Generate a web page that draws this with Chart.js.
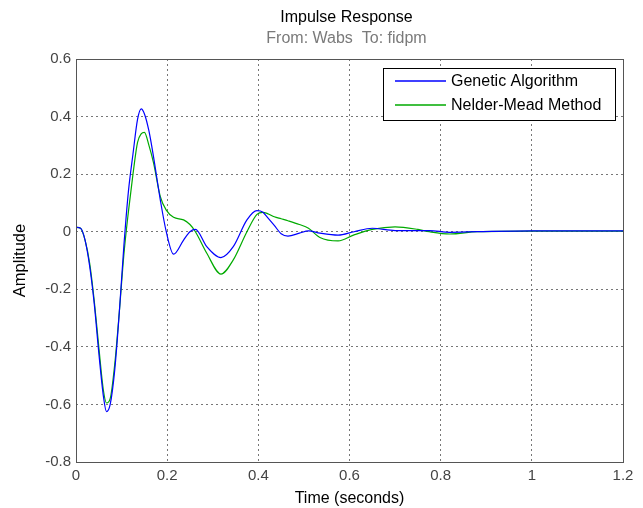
<!DOCTYPE html>
<html>
<head>
<meta charset="utf-8">
<script src="https://cdn.jsdelivr.net/npm/chart.js@4"></script>
<style>
  html, body { margin: 0; padding: 0; background: #fff; }
  #wrap { width: 643px; height: 508px; }
</style>
</head>
<body>
<div id="wrap"><canvas id="chart" width="643" height="508"></canvas></div>
<script>
'use strict';

// time samples (seconds)
let timeVals = [0, 0.01, 0.02, 0.03, 0.04, 0.05, 0.06, 0.067, 0.075, 0.085, 0.095, 0.105,
  0.115, 0.125, 0.135, 0.143, 0.15, 0.16, 0.17, 0.185, 0.198, 0.214, 0.236, 0.25, 0.262,
  0.287, 0.318, 0.345, 0.375, 0.397, 0.41, 0.42, 0.435, 0.45, 0.465, 0.49, 0.51, 0.535,
  0.575, 0.61, 0.65, 0.7, 0.75, 0.775, 0.82, 0.88, 1.0, 1.2];

let geneticVals = [0.015, 0.012, -0.03, -0.12, -0.25, -0.42, -0.57, -0.625, -0.6, -0.48, -0.28, -0.05,
  0.14, 0.27, 0.39, 0.427, 0.41, 0.35, 0.261, 0.11, 0.0, -0.078, -0.029, 0.0, 0.008,
  -0.052, -0.09, -0.052, 0.041, 0.073, 0.068, 0.05, 0.022, -0.007, -0.015, -0.005, 0.003, -0.005,
  -0.012, 0.0, 0.012, 0.004, 0.004, 0.004, -0.002, 0.0, 0.003, 0.003];

let nelderVals = [0.015, 0.012, -0.03, -0.11, -0.24, -0.4, -0.55, -0.595, -0.58, -0.46, -0.28, -0.08,
  0.07, 0.2, 0.31, 0.34, 0.345, 0.3, 0.24, 0.122, 0.075, 0.05, 0.041, 0.025, 0.0,
  -0.075, -0.147, -0.098, 0.0, 0.06, 0.067, 0.063, 0.052, 0.045, 0.038, 0.025, 0.012, -0.02,
  -0.032, -0.011, 0.008, 0.017, 0.008, 0.0, -0.008, 0.0, 0.002, 0.002];

let seriesNames = ['Genetic Algorithm', 'Nelder-Mead Method'];
let seriesColors = ['#0000ff', '#00aa00'];
let titleText = 'Impulse Response';
let subTitleText = 'From: Wabs  To: fidpm';

let fontFam = '"Liberation Sans", Arial, sans-serif';
let canvasElem = document.getElementById('chart');

function toPoints(ys) {
  let pts = [];
  for (let i = 0; i < timeVals.length; i++) {
    pts.push({ x: timeVals[i], y: ys[i] });
  }
  return pts;
}

// box round the axes, title over the plot area, legend in the corner
let matlabLook = {
  id: 'matlabLook',
  afterDraw(chart) {
    let ctx = chart.ctx;
    let a = chart.chartArea;
    ctx.save();
    ctx.setLineDash([]);
    ctx.strokeStyle = '#555';
    ctx.lineWidth = 1;
    ctx.strokeRect(Math.round(a.left) + 0.5, Math.round(a.top) + 0.5,
      Math.round(a.right - a.left), Math.round(a.bottom - a.top));

    let cx = (a.left + a.right) / 2 - 3;
    ctx.textAlign = 'center';
    ctx.textBaseline = 'middle';
    ctx.font = '16px ' + fontFam;
    ctx.fillStyle = '#000';
    ctx.fillText(titleText, cx, 18);
    ctx.fillStyle = '#7a7a7a';
    ctx.fillText(subTitleText, cx, 39);

    // legend
    let lx = 383, ly = 68, lw = 232, lh = 52;
    ctx.fillStyle = '#fff';
    ctx.fillRect(lx, ly, lw, lh);
    ctx.strokeStyle = '#000';
    ctx.strokeRect(lx + 0.5, ly + 0.5, lw, lh);
    ctx.textAlign = 'left';
    ctx.font = '16px ' + fontFam;
    for (let i = 0; i < seriesNames.length; i++) {
      let yy = ly + 13 + i * 24;
      ctx.strokeStyle = seriesColors[i];
      ctx.lineWidth = 1.3;
      ctx.beginPath();
      ctx.moveTo(lx + 12, yy);
      ctx.lineTo(lx + 63, yy);
      ctx.stroke();
      ctx.fillStyle = '#000';
      ctx.fillText(seriesNames[i], lx + 68, yy + 1);
    }
    ctx.restore();
  }
};

function renderChart() {
  let chartObj = {
    type: 'line',
    data: {
      datasets: [
        {
          label: seriesNames[0],
          data: toPoints(geneticVals),
          borderColor: seriesColors[0],
          borderWidth: 1.2,
          pointRadius: 0,
          cubicInterpolationMode: 'monotone',
          fill: false
        },
        {
          label: seriesNames[1],
          data: toPoints(nelderVals),
          borderColor: seriesColors[1],
          borderWidth: 1.2,
          pointRadius: 0,
          cubicInterpolationMode: 'monotone',
          fill: false
        }
      ]
    },
    options: {
      responsive: false,
      animation: false,
      layout: { padding: { top: 59, right: 20, left: 0, bottom: 0 } },
      plugins: {
        legend: { display: false },
        title: { display: false },
        tooltip: { enabled: false }
      },
      scales: {
        x: {
          type: 'linear',
          min: 0,
          max: 1.2,
          afterFit(scale) { scale.height = 46; },
          ticks: {
            stepSize: 0.2,
            color: '#444',
            font: { size: 15, family: fontFam },
            padding: 5,
            callback: (v) => String(Number(v.toFixed(1)))
          },
          grid: { color: '#777', drawTicks: false, lineWidth: 1 },
          border: { display: false, dash: [2, 3] },
          title: {
            display: true,
            text: 'Time (seconds)',
            color: '#000',
            font: { size: 16, family: fontFam },
            padding: { top: 2, bottom: 0 }
          }
        },
        y: {
          min: -0.8,
          max: 0.6,
          afterFit(scale) { scale.width = 76; },
          ticks: {
            stepSize: 0.2,
            color: '#444',
            font: { size: 15, family: fontFam },
            padding: 5,
            callback: (v) => String(Number(v.toFixed(1)))
          },
          grid: { color: '#777', drawTicks: false, lineWidth: 1 },
          border: { display: false, dash: [2, 3] },
          title: {
            display: true,
            text: 'Amplitude',
            color: '#000',
            font: { size: 16.5, family: fontFam },
            padding: { top: 11, bottom: 0 }
          }
        }
      }
    },
    plugins: [matlabLook]
  };

  new Chart(canvasElem, chartObj);
}

renderChart();
</script>
</body>
</html>
